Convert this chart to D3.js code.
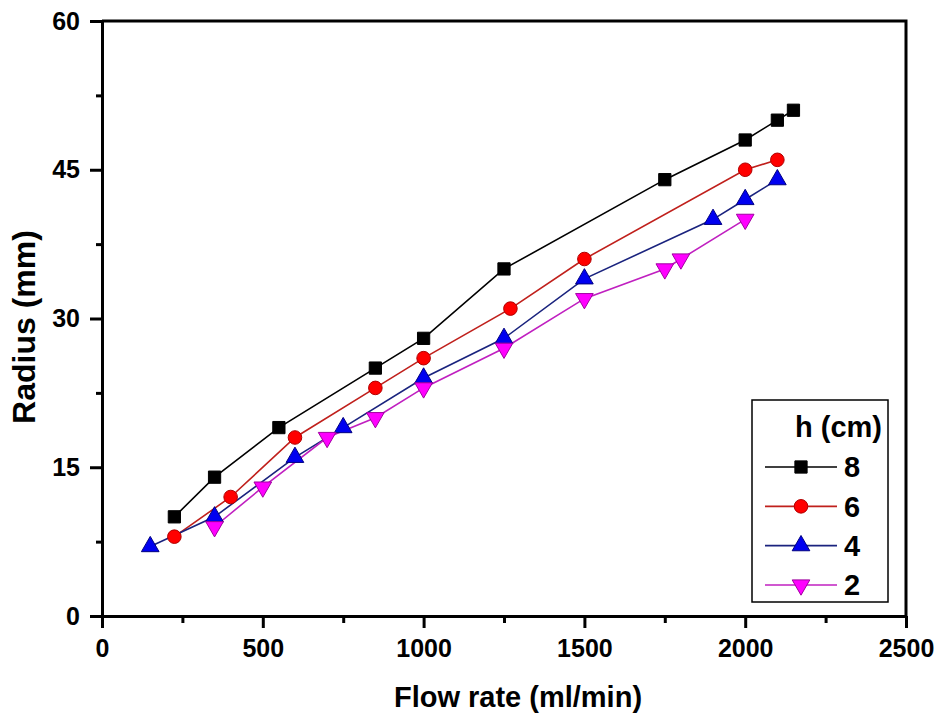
<!DOCTYPE html>
<html>
<head>
<meta charset="utf-8">
<script src="https://cdn.jsdelivr.net/npm/d3@7"></script>
<style>
  body { margin: 0; background: #fff; }
  svg { display: block; font-family: "Liberation Sans", Arial, sans-serif; }
</style>
</head>
<body>
<figure id="chart" style="margin:0"></figure>
<script>
// values: [flow rate, radius]
const h8 = [[225,10],[350,14],[550,19],[850,25],[1000,28],[1250,35],[1750,44],[2000,48],[2100,50],[2150,51]];
const h6 = [[225,8],[400,12],[600,18],[850,23],[1000,26],[1270,31],[1500,36],[2000,45],[2100,46]];
const h4 = [[150,7],[350,10],[600,16],[750,19],[1000,24],[1250,28],[1500,34],[1900,40],[2000,42],[2100,44]];
const h2 = [[350,9],[500,13],[700,18],[850,20],[1000,23],[1250,27],[1500,32],[1750,35],[1800,36],[2000,40]];

const seriesNames = ["8", "6", "4", "2"];
const xTicks = [0, 500, 1000, 1500, 2000, 2500];
const xMinor = [250, 750, 1250, 1750, 2250];
const yTicks = [0, 15, 30, 45, 60];
const yMinor = [7.5, 22.5, 37.5, 52.5];

const series = [
  {name: seriesNames[0], data: h8, line: "#000", fill: "#000", stroke: "#000", shape: d3.symbolSquare, size: 150, rot: 0},
  {name: seriesNames[1], data: h6, line: "#c0201c", fill: "#f00", stroke: "#b00000", shape: d3.symbolCircle, size: 145, rot: 0},
  {name: seriesNames[2], data: h4, line: "#1a237e", fill: "#0000f0", stroke: "#000080", shape: d3.symbolTriangle, size: 135, rot: 0},
  {name: seriesNames[3], data: h2, line: "#c020c0", fill: "#ff00ff", stroke: "#a000a0", shape: d3.symbolTriangle, size: 135, rot: 180}
];

const W = 940, H = 715;
const mLeft = 102, mRight = 906, mTop = 21, mBottom = 616;

const svg = d3.select("#chart").append("svg")
  .attr("width", W)
  .attr("height", H);

const x = d3.scaleLinear().domain([0, 2500]).range([mLeft, mRight]);
const y = d3.scaleLinear().domain([0, 60]).range([mBottom, mTop]);

// frame (top + right)
svg.append("path")
  .attr("d", `M${mLeft},${mTop}H${mRight}V${mBottom}`)
  .attr("fill", "none")
  .attr("stroke", "#000")
  .attr("stroke-width", 3);

// X axis
svg.append("g")
  .attr("transform", "translate(0," + mBottom + ")")
  .call(d3.axisBottom(x).tickValues(xTicks).tickFormat(d3.format("d")).tickSize(12).tickSizeOuter(0).tickPadding(11));
svg.append("g")
  .attr("transform", "translate(0," + mBottom + ")")
  .call(d3.axisBottom(x).tickValues(xMinor).tickSize(7).tickFormat("").tickSizeOuter(0))
  .select(".domain").remove();

// Y axis
svg.append("g")
  .attr("transform", "translate(" + mLeft + ",0)")
  .call(d3.axisLeft(y).tickValues(yTicks).tickSize(12).tickSizeOuter(0).tickPadding(10));
svg.append("g")
  .attr("transform", "translate(" + mLeft + ",0)")
  .call(d3.axisLeft(y).tickValues(yMinor).tickSize(6).tickFormat("").tickSizeOuter(0))
  .select(".domain").remove();

svg.selectAll(".domain, .tick line")
  .attr("stroke", "#000")
  .attr("stroke-width", 3);
svg.selectAll(".tick text")
  .attr("fill", "#000")
  .style("font-size", "25px")
  .style("font-weight", "bold");

// axis titles
svg.append("text")
  .attr("x", 518)
  .attr("y", 707)
  .attr("text-anchor", "middle")
  .style("font-size", "29px")
  .style("font-weight", "bold")
  .text("Flow rate (ml/min)");

svg.append("text")
  .attr("transform", "translate(35,327) rotate(-90)")
  .attr("text-anchor", "middle")
  .style("font-size", "32px")
  .style("font-weight", "bold")
  .text("Radius (mm)");

// lines and markers
const line = d3.line().x(d => x(d[0])).y(d => y(d[1]));

series.forEach(s => {
  svg.append("path")
    .datum(s.data)
    .attr("d", line)
    .attr("fill", "none")
    .attr("stroke", s.line)
    .attr("stroke-width", 1.6);
});

series.forEach(s => {
  svg.append("g").selectAll("path")
    .data(s.data)
    .enter()
    .append("path")
    .attr("d", d3.symbol().type(s.shape).size(s.size))
    .attr("transform", d => `translate(${x(d[0])},${y(d[1])}) rotate(${s.rot})`)
    .attr("fill", s.fill)
    .attr("stroke", s.stroke)
    .attr("stroke-width", 1);
});

// legend
const lg = svg.append("g");
lg.append("rect")
  .attr("x", 752).attr("y", 400)
  .attr("width", 136).attr("height", 202)
  .attr("fill", "#fff")
  .attr("stroke", "#000")
  .attr("stroke-width", 1.5);
lg.append("text")
  .attr("x", 882).attr("y", 437)
  .attr("text-anchor", "end")
  .style("font-size", "29px")
  .style("font-weight", "bold")
  .text("h (cm)");

const rowY = d3.scalePoint().domain(seriesNames).range([467, 585]);
series.forEach(s => {
  const yy = rowY(s.name);
  lg.append("line")
    .attr("x1", 765).attr("x2", 837)
    .attr("y1", yy).attr("y2", yy)
    .attr("stroke", s.line)
    .attr("stroke-width", 1.6);
  lg.append("path")
    .attr("d", d3.symbol().type(s.shape).size(s.size))
    .attr("transform", `translate(801,${yy}) rotate(${s.rot})`)
    .attr("fill", s.fill)
    .attr("stroke", s.stroke)
    .attr("stroke-width", 1);
  lg.append("text")
    .attr("x", 844).attr("y", yy)
    .attr("dy", "0.36em")
    .style("font-size", "29px")
    .style("font-weight", "bold")
    .text(s.name);
});
</script>
</body>
</html>
